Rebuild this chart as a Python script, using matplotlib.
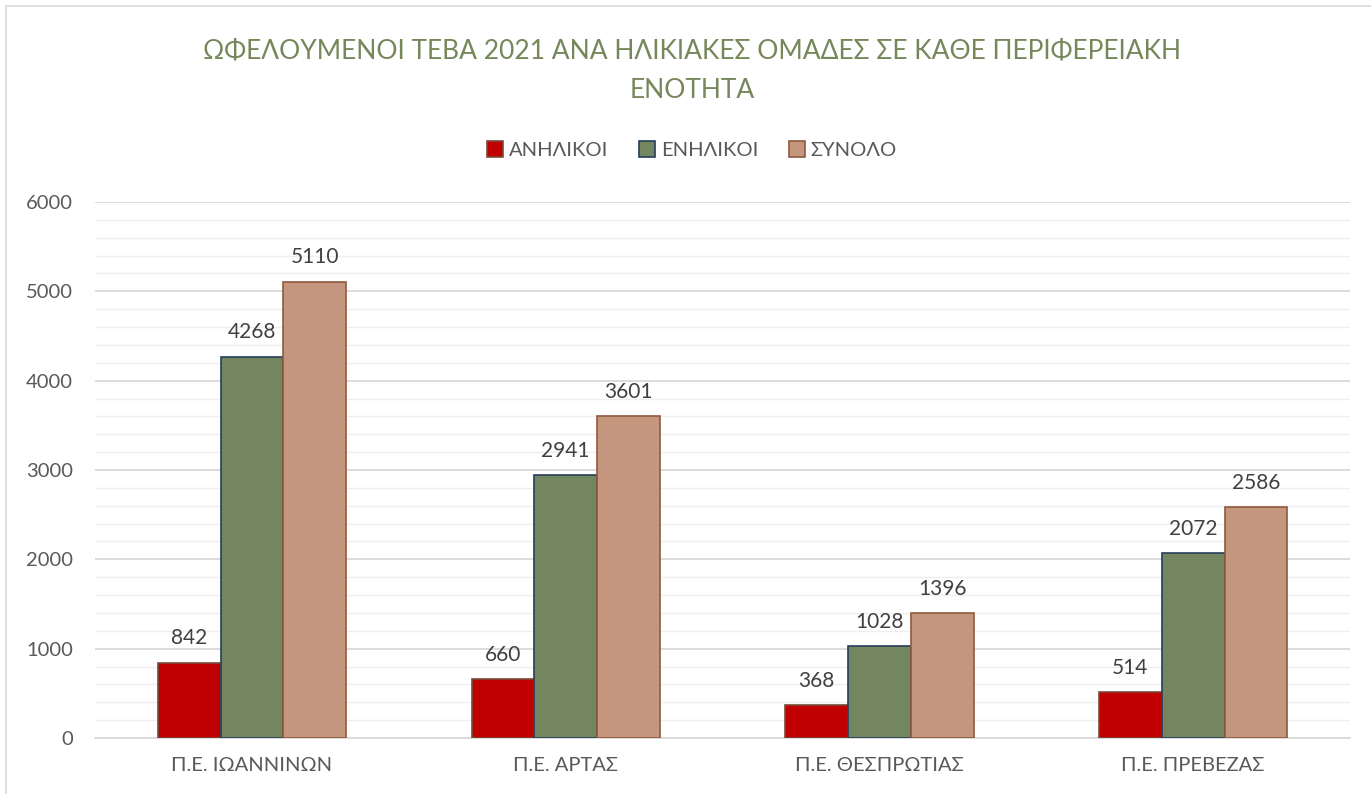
import numpy as np
import matplotlib.pyplot as plt
from matplotlib.ticker import MultipleLocator

plt.rcParams['font.family'] = ['Lato', 'Noto Sans', 'DejaVu Sans']

regions = ["Π.Ε. ΙΩΑΝΝΙΝΩΝ", "Π.Ε. ΑΡΤΑΣ", "Π.Ε. ΘΕΣΠΡΩΤΙΑΣ", "Π.Ε. ΠΡΕΒΕΖΑΣ"]
series_names = ["ΑΝΗΛΙΚΟΙ", "ΕΝΗΛΙΚΟΙ", "ΣΥΝΟΛΟ"]
minors = [842, 660, 368, 514]
adults = [4268, 2941, 1028, 2072]
totals = [5110, 3601, 1396, 2586]

colors = ["#C00000", "#748660", "#C4967E"]
edges = ["#7A4A3A", "#253D5B", "#8E5B40"]

fig = plt.figure(figsize=(13.71, 7.94), dpi=100)
ax = fig.add_axes([95/1371, 1-738/794, 1255/1371, 536/794])

x = np.arange(len(regions))
w = 0.2
for i, (vals, name) in enumerate(zip([minors, adults, totals], series_names)):
    bars = ax.bar(x + (i-1)*w, vals, width=w, color=colors[i], edgecolor=edges[i],
                  linewidth=1.2, label=name, zorder=3)
    for b, v in zip(bars, vals):
        ax.text(b.get_x() + b.get_width()/2, v + 160, str(v), ha='center', va='bottom',
                fontsize=15, color='#404040')

ax.set_xlim(-0.5, 3.5)
ax.set_ylim(0, 6000)
ax.yaxis.set_major_locator(MultipleLocator(1000))
ax.yaxis.set_minor_locator(MultipleLocator(200))
ax.grid(axis='y', which='major', color='#D9D9D9', linewidth=1.3, zorder=0)
ax.grid(axis='y', which='minor', color='#EFEFEF', linewidth=1.0, zorder=0)
ax.set_axisbelow(True)
for s in ['top', 'right', 'left']:
    ax.spines[s].set_visible(False)
ax.spines['bottom'].set_color('#D9D9D9')
ax.spines['bottom'].set_linewidth(1.3)
ax.tick_params(axis='both', which='both', length=0, labelsize=14.5, labelcolor='#595959')
ax.tick_params(axis='y', pad=16)
ax.tick_params(axis='x', pad=14)
ax.set_xticks(x)
ax.set_xticklabels(regions)

cx = 692/1371
fig.text(cx, 1-51/794, "ΩΦΕΛΟΥΜΕΝΟΙ ΤΕΒΑ 2021 ΑΝΑ ΗΛΙΚΙΑΚΕΣ ΟΜΑΔΕΣ ΣΕ ΚΑΘΕ ΠΕΡΙΦΕΡΕΙΑΚΗ",
         ha='center', va='center', fontsize=19, color='#76875A')
fig.text(cx, 1-91/794, "ΕΝΟΤΗΤΑ", ha='center', va='center', fontsize=19, color='#76875A')

fig.legend(loc='center', bbox_to_anchor=(cx, 1-150/794), ncol=3, frameon=False,
           fontsize=14.5, handlelength=0.8, handleheight=0.8, columnspacing=1.5,
           handletextpad=0.3, labelcolor='#595959')

border = plt.Rectangle((6/1371, -0.01), 1.02, 1 - 6/794 + 0.01, transform=fig.transFigure,
                       fill=False, edgecolor='#D9D9D9', linewidth=1.2)
fig.patches.append(border)

fig.savefig("out.png", dpi=100)
